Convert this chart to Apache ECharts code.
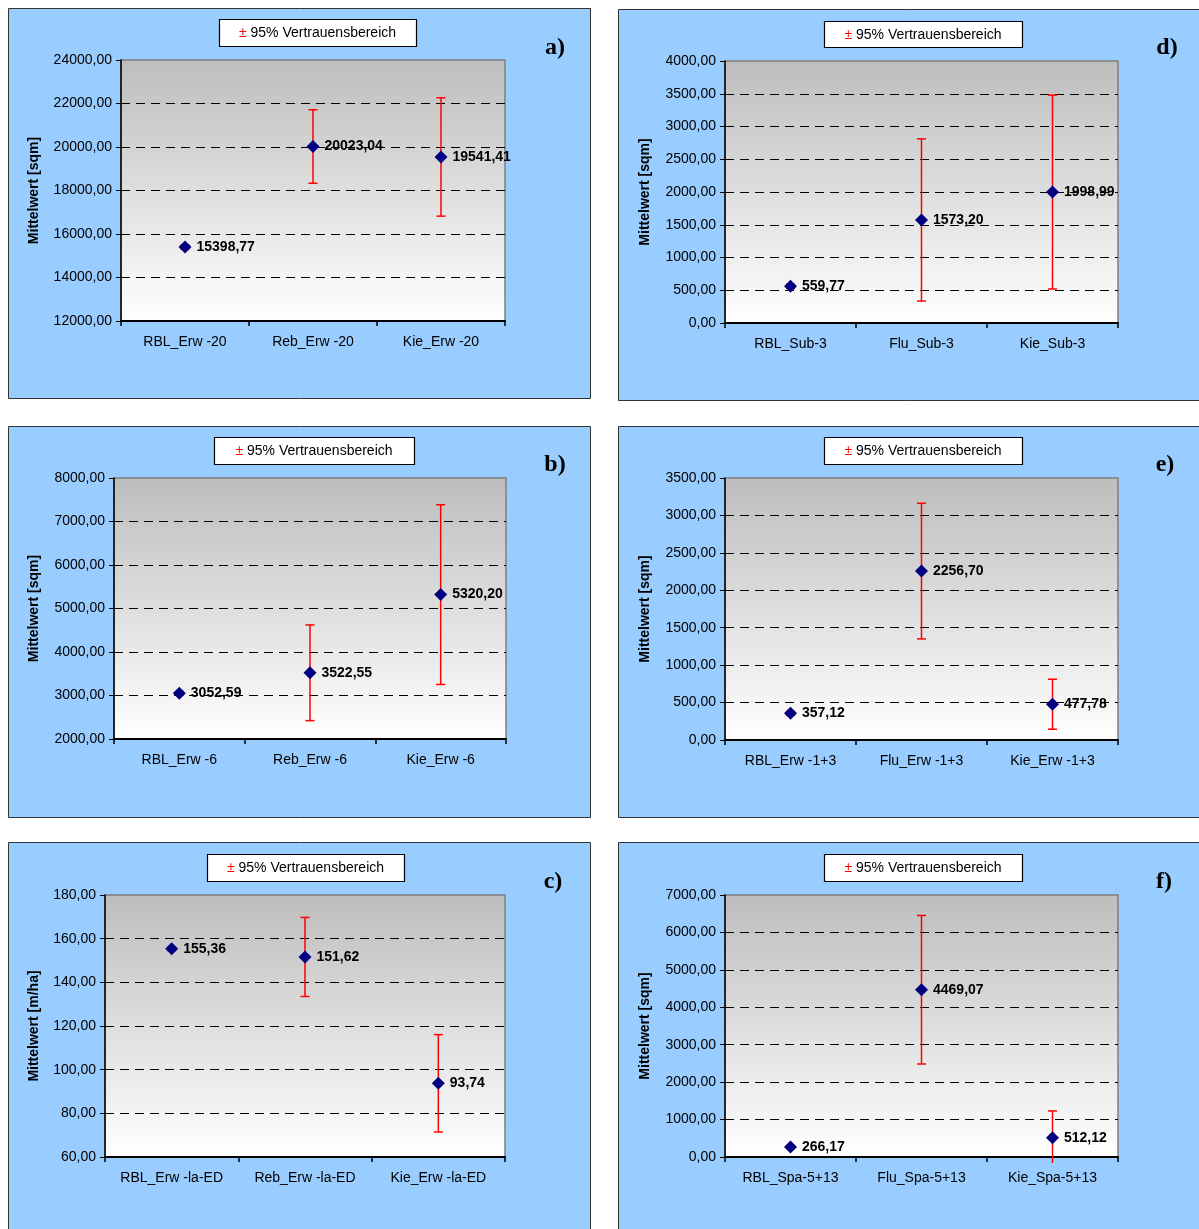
<!DOCTYPE html>
<html><head><meta charset="utf-8">
<script src="https://cdn.jsdelivr.net/npm/echarts@6/dist/echarts.min.js"></script>
<style>html,body{margin:0;padding:0;background:#fff;overflow:hidden;} #c{width:1199px;height:1229px;}</style>
</head><body><div id="c"></div>
<script>
// ---- data ----
const catsA = ['RBL_Erw -20', 'Reb_Erw -20', 'Kie_Erw -20'];
const meanA = [15398.77, 20023.04, 19541.41];
const ciA   = [100, 1690, 2720];
const axisA = [12000, 24000, 2000];

const catsB = ['RBL_Erw -6', 'Reb_Erw -6', 'Kie_Erw -6'];
const meanB = [3052.59, 3522.55, 5320.20];
const ciB   = [40, 1100, 2066];
const axisB = [2000, 8000, 1000];

const catsC = ['RBL_Erw -la-ED', 'Reb_Erw -la-ED', 'Kie_Erw -la-ED'];
const meanC = [155.36, 151.62, 93.74];
const ciC   = [0.8, 18.1, 22.3];
const axisC = [60, 180, 20];

const catsD = ['RBL_Sub-3', 'Flu_Sub-3', 'Kie_Sub-3'];
const meanD = [559.77, 1573.20, 1998.99];
const ciD   = [30, 1238, 1480];
const axisD = [0, 4000, 500];

const catsE = ['RBL_Erw -1+3', 'Flu_Erw -1+3', 'Kie_Erw -1+3'];
const meanE = [357.12, 2256.70, 477.78];
const ciE   = [25, 906, 334];
const axisE = [0, 3500, 500];

const catsF = ['RBL_Spa-5+13', 'Flu_Spa-5+13', 'Kie_Spa-5+13'];
const meanF = [266.17, 4469.07, 512.12];
const ciF   = [40, 1984, 719];
const axisF = [0, 7000, 1000];

const legendText = '95% Vertrauensbereich';

// ---- layout ----
const FONT = '"Liberation Sans", Arial, sans-serif';
const panels = [
  {cats: catsA, mean: meanA, ci: ciA, ax: axisA, name: 'Mittelwert [sqm]', letter: 'a)',
   grid: [121, 60, 384, 261], gap: 80, box: [8, 8, 582, 390], leg: [219, 19, 197, 27], let: [555, 48]},
  {cats: catsB, mean: meanB, ci: ciB, ax: axisB, name: 'Mittelwert [sqm]', letter: 'b)',
   grid: [114, 478, 392, 261], gap: 73, box: [8, 426, 582, 391], leg: [214, 437, 200, 27], let: [555, 465]},
  {cats: catsC, mean: meanC, ci: ciC, ax: axisC, name: 'Mittelwert [m/ha]', letter: 'c)',
   grid: [105, 895, 400, 262], gap: 64, box: [8, 842, 582, 420], leg: [207, 854, 197, 27], let: [553, 882]},
  {cats: catsD, mean: meanD, ci: ciD, ax: axisD, name: 'Mittelwert [sqm]', letter: 'd)',
   grid: [725, 61, 393, 262], gap: 73, box: [618, 9, 620, 391], leg: [824, 21, 198, 26], let: [1167, 48]},
  {cats: catsE, mean: meanE, ci: ciE, ax: axisE, name: 'Mittelwert [sqm]', letter: 'e)',
   grid: [725, 478, 393, 262], gap: 73, box: [618, 426, 620, 391], leg: [824, 437, 198, 27], let: [1165, 465]},
  {cats: catsF, mean: meanF, ci: ciF, ax: axisF, name: 'Mittelwert [sqm]', letter: 'f)',
   grid: [725, 895, 393, 262], gap: 73, box: [618, 842, 620, 420], leg: [824, 854, 198, 27], let: [1164, 882]}
];

const fmt = v => v.toFixed(2).replace('.', ',');

function errRender(params, api) {
  const x = api.value(0), lo = api.value(1), hi = api.value(2);
  const pHi = api.coord([x, hi]);
  const pLo = api.coord([x, lo]);
  const cs = params.coordSys;
  const bottom = cs.y + cs.height;
  let yLo = pLo[1], capLo = true;
  if (yLo > bottom + 6) { yLo = bottom + 6; capLo = false; }
  const w = 4.5;
  const st = {stroke: '#ff0000', lineWidth: 1.5};
  const ch = [
    {type: 'line', shape: {x1: pHi[0], y1: pHi[1], x2: pHi[0], y2: yLo}, style: st},
    {type: 'line', shape: {x1: pHi[0] - w, y1: pHi[1], x2: pHi[0] + w, y2: pHi[1]}, style: st}
  ];
  if (capLo) ch.push({type: 'line', shape: {x1: pLo[0] - w, y1: yLo, x2: pLo[0] + w, y2: yLo}, style: st});
  return {type: 'group', children: ch};
}

const grids = [], xAxes = [], yAxes = [], series = [], graphics = [];
panels.forEach((p, i) => {
  graphics.push({type: 'rect', z: -10, shape: {x: p.box[0] + 0.5, y: p.box[1] + 0.5, width: p.box[2], height: p.box[3]},
    style: {fill: '#99ccff', stroke: '#333333', lineWidth: 1}});
  graphics.push({type: 'rect', z: 100, shape: {x: p.leg[0] + 0.5, y: p.leg[1] + 0.5, width: p.leg[2], height: p.leg[3]},
    style: {fill: '#ffffff', stroke: '#000000', lineWidth: 1.2}});
  graphics.push({type: 'text', z: 101, x: p.leg[0] + p.leg[2] / 2, y: p.leg[1] + p.leg[3] / 2 + 1,
    style: {text: '{r|±} ' + legendText, align: 'center', verticalAlign: 'middle', font: '14px ' + FONT, fill: '#000',
      rich: {r: {fill: '#ff0000', font: '14px ' + FONT}}}});
  graphics.push({type: 'text', z: 101, x: p.let[0], y: p.let[1],
    style: {text: p.letter, align: 'center', verticalAlign: 'middle', font: 'bold 24px "Liberation Serif", "Times New Roman", serif', fill: '#000'}});

  grids.push({left: p.grid[0], top: p.grid[1], width: p.grid[2], height: p.grid[3], show: true,
    backgroundColor: new echarts.graphic.LinearGradient(0, 0, 0, 1, [{offset: 0, color: '#bdbdbd'}, {offset: 1, color: '#ffffff'}]),
    borderColor: '#7f7f7f', borderWidth: 1.5});
  xAxes.push({type: 'category', gridIndex: i, data: p.cats, boundaryGap: true,
    axisLine: {show: true, lineStyle: {color: '#000', width: 2}},
    axisTick: {show: true, length: 5, interval: 0, alignWithLabel: false, lineStyle: {color: '#000', width: 1.5}},
    axisLabel: {interval: 0, color: '#000', fontSize: 14, fontFamily: FONT, margin: 14},
    splitLine: {show: false}});
  yAxes.push({type: 'value', gridIndex: i, min: p.ax[0], max: p.ax[1], interval: p.ax[2],
    axisLine: {show: true, lineStyle: {color: '#000', width: 1.5}},
    axisTick: {show: true, length: 5, lineStyle: {color: '#000', width: 1}},
    axisLabel: {color: '#000', fontSize: 14, fontFamily: FONT, margin: 9, formatter: v => fmt(v)},
    splitLine: {show: true, showMinLine: false, showMaxLine: false, lineStyle: {color: '#000', width: 1, type: [9, 6]}},
    name: p.name, nameLocation: 'middle', nameGap: p.gap,
    nameTextStyle: {color: '#000', fontSize: 14, fontWeight: 'bold', fontFamily: FONT}});
  series.push({type: 'custom', xAxisIndex: i, yAxisIndex: i, z: 3, clip: false,
    renderItem: errRender, encode: {x: 0, y: [1, 2]},
    data: p.mean.map((m, k) => [k, m - p.ci[k], m + p.ci[k]])});
  series.push({type: 'scatter', xAxisIndex: i, yAxisIndex: i, z: 5, symbol: 'diamond', symbolSize: 13,
    itemStyle: {color: '#000080', opacity: 1},
    label: {show: true, position: 'right', distance: 5, color: '#000', fontSize: 14, fontWeight: 'bold', fontFamily: FONT,
      opacity: 1, formatter: q => fmt(q.value)},
    emphasis: {disabled: true},
    data: p.mean});
});

const chart = echarts.init(document.getElementById('c'), null, {renderer: 'canvas'});
chart.setOption({
  backgroundColor: '#ffffff',
  animation: false,
  textStyle: {fontFamily: FONT},
  grid: grids, xAxis: xAxes, yAxis: yAxes, series: series,
  graphic: graphics
});
</script>
</body></html>
